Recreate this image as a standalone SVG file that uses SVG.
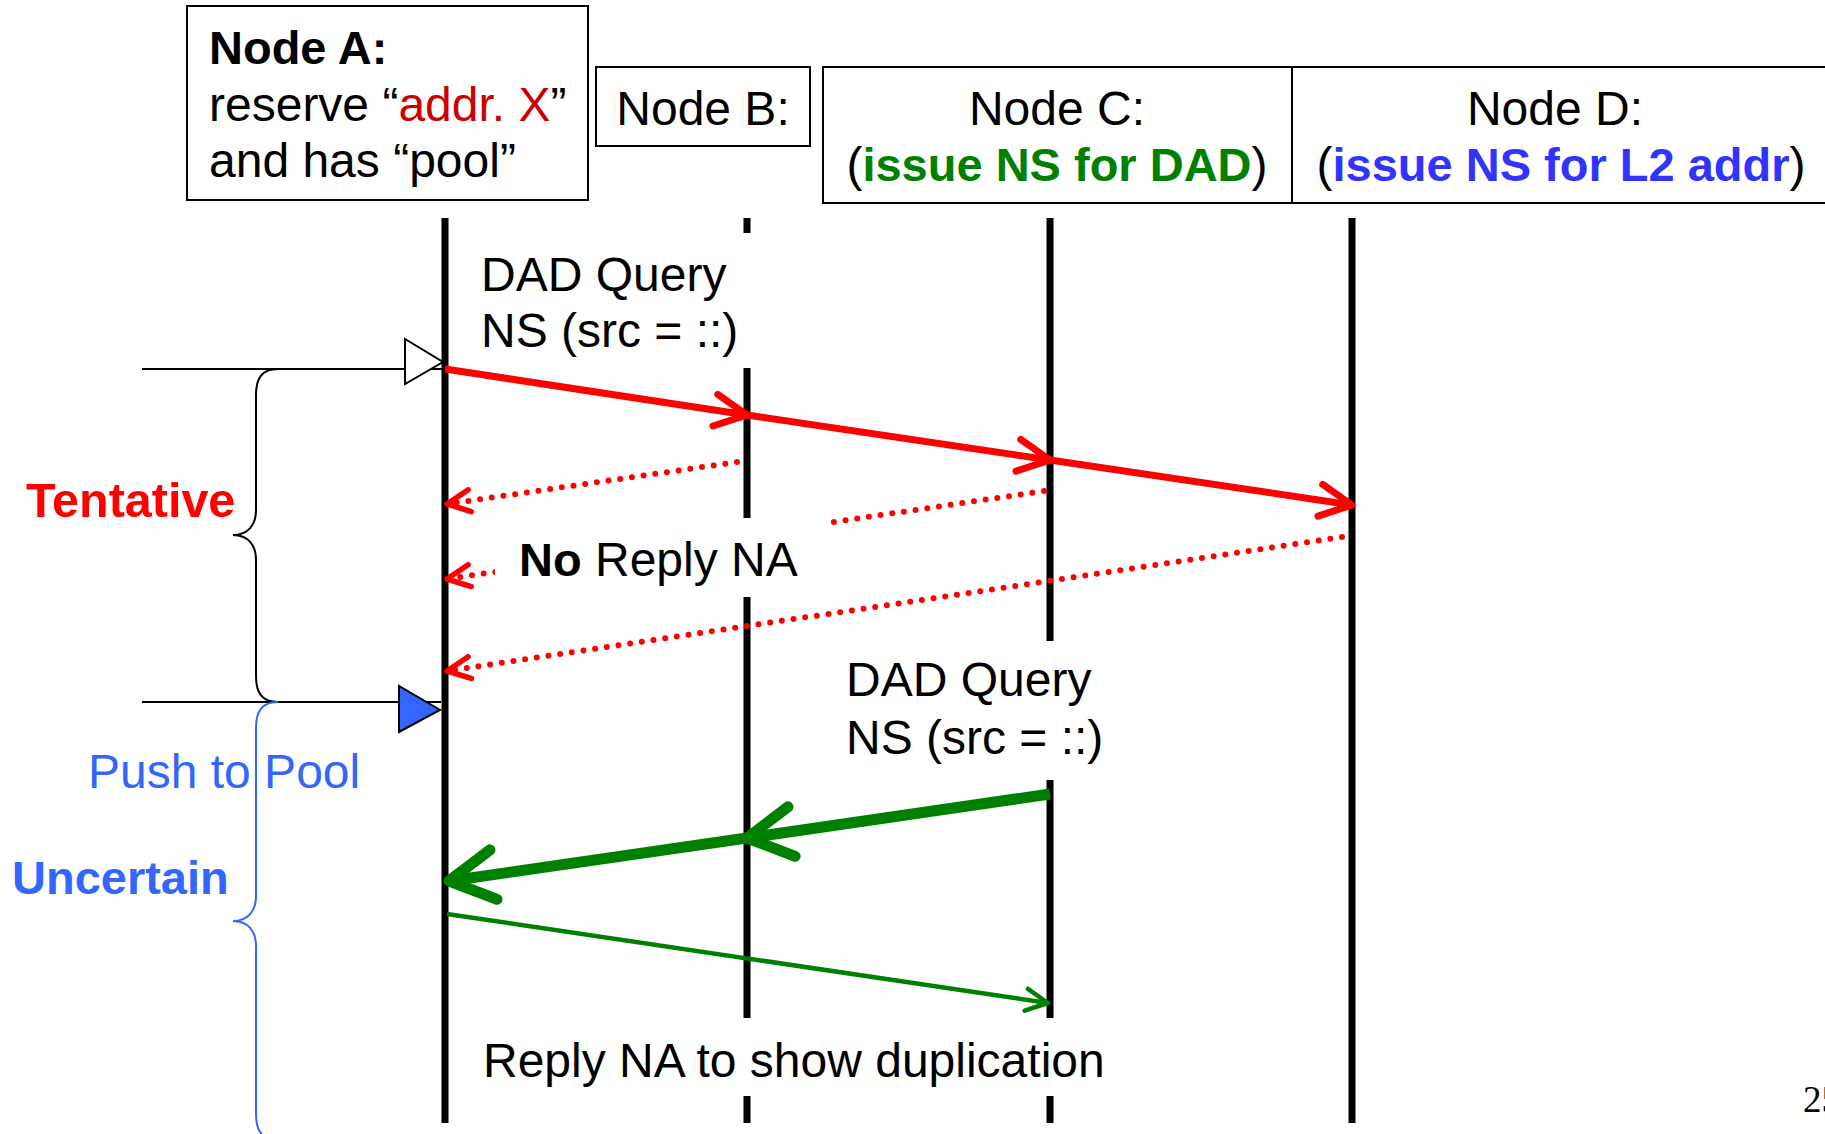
<svg xmlns="http://www.w3.org/2000/svg" width="1825" height="1134" viewBox="0 0 1825 1134">
  <defs>
    <style>
      text { font-family: "Liberation Sans", Arial, sans-serif; font-size: 48px; fill: #000; }
      .b { font-weight: bold; font-size: 47px; }
      .box { fill: #fff; stroke: #000; stroke-width: 2; }
      .life { stroke: #000; stroke-width: 7; fill: none; }
      .mask { fill: #fff; stroke: none; }
      .red { stroke: #f00; stroke-width: 7; fill: none; }
      .dot { stroke: #f00; stroke-width: 6; stroke-dasharray: 0 11.8; stroke-linecap: round; fill: none; }
      .gthick { stroke: #008000; stroke-width: 11; fill: none; }
      .gthin { stroke: #008000; stroke-width: 4.5; fill: none; }
      .brace { fill: none; stroke-width: 2; }
      .tick { stroke: #000; stroke-width: 2; fill: none; }
      marker { overflow: visible; }
    </style>
    <marker id="ahRed" markerUnits="userSpaceOnUse" orient="auto" markerWidth="1" markerHeight="1">
      <path d="M-32,-16 L0,0 L-32,16" fill="none" stroke="#f00" stroke-width="7" stroke-linecap="round" stroke-linejoin="round"/>
    </marker>
    <marker id="ahRedDot" markerUnits="userSpaceOnUse" orient="auto" markerWidth="1" markerHeight="1">
      <path d="M-23,-11 L0,0 L-23,11" fill="none" stroke="#f00" stroke-width="5.5" stroke-linecap="round" stroke-linejoin="round"/>
    </marker>
    <marker id="ahGreenBig" markerUnits="userSpaceOnUse" orient="auto" markerWidth="1" markerHeight="1">
      <path d="M-45,-25 L0,0 L-45,25" fill="none" stroke="#008000" stroke-width="11" stroke-linecap="round" stroke-linejoin="round"/>
    </marker>
    <marker id="ahGreenSmall" markerUnits="userSpaceOnUse" orient="auto" markerWidth="1" markerHeight="1">
      <path d="M-22,-11 L0,0 L-22,11" fill="none" stroke="#008000" stroke-width="4.5" stroke-linecap="round" stroke-linejoin="round"/>
    </marker>
  </defs>

  <rect width="1825" height="1134" fill="#fff"/>

  <!-- node headers -->
  <g id="nodeA">
    <rect class="box" x="187" y="6" width="401" height="194"/>
    <text class="b" x="209" y="64">Node A:</text>
    <text x="209" y="121">reserve “<tspan fill="#cc0000">addr. X</tspan>”</text>
    <text x="209" y="177">and has “pool”</text>
  </g>
  <g id="nodeB">
    <rect class="box" x="596" y="67" width="214" height="79"/>
    <text x="703" y="125" text-anchor="middle">Node B:</text>
  </g>
  <g id="nodeC">
    <rect class="box" x="823" y="67" width="469" height="136"/>
    <text x="1057" y="125" text-anchor="middle">Node C:</text>
    <text x="1057" y="181" text-anchor="middle">(<tspan class="b" fill="#008000">issue NS for DAD</tspan>)</text>
  </g>
  <g id="nodeD">
    <rect class="box" x="1292" y="67" width="560" height="136"/>
    <text x="1555" y="125" text-anchor="middle">Node D:</text>
    <text x="1561" y="181" text-anchor="middle">(<tspan class="b" fill="#3333ff">issue NS for L2 addr</tspan>)</text>
  </g>

  <!-- lifelines -->
  <g id="lifelines">
    <line class="life" x1="445" y1="218" x2="445" y2="1123"/>
    <line class="life" x1="747" y1="218" x2="747" y2="1123"/>
    <line class="life" x1="1050" y1="218" x2="1050" y2="1123"/>
    <line class="life" x1="1352" y1="218" x2="1352" y2="1123"/>
  </g>

  <!-- state markers and braces -->
  <g id="states">
    <line class="tick" x1="142" y1="369" x2="443" y2="369"/>
    <polygon points="405,339 405,384 443,362" fill="#fff" stroke="#000" stroke-width="2"/>
    <line class="tick" x1="142" y1="702" x2="441" y2="702"/>
    <polygon points="399,686 399,732 440,710" fill="#3366ff" stroke="#000" stroke-width="2"/>
    <path class="brace" stroke="#000" d="M278,369 C262,369 256,378 256,395 L256,510 C256,525 248,535 233,535 C248,535 256,545 256,560 L256,676 C256,693 262,702 278,702"/>
    <path class="brace" stroke="#3366ff" d="M278,702 C262,702 256,711 256,728 L256,896 C256,911 248,921 233,921 C248,921 256,931 256,946 L256,1114 C256,1131 262,1140 278,1140"/>
    <text class="b" x="26" y="517" style="fill:#ff0000; font-size:48.5px">Tentative</text>
    <text x="88" y="788" style="fill:#3366ff">Push to Pool</text>
    <text class="b" x="12" y="894" style="fill:#3366ff">Uncertain</text>
  </g>

  <!-- messages -->
  <g id="connectors">
    <line class="red" x1="445" y1="369" x2="747" y2="415" marker-end="url(#ahRed)"/>
    <line class="red" x1="747" y1="415" x2="1050" y2="460" marker-end="url(#ahRed)"/>
    <line class="red" x1="1050" y1="460" x2="1352" y2="505" marker-end="url(#ahRed)"/>
    <line class="dot" x1="737" y1="462" x2="447" y2="504" marker-end="url(#ahRedDot)"/>
    <line class="dot" x1="1044" y1="491" x2="447" y2="579" marker-end="url(#ahRedDot)"/>
    <line class="dot" x1="1342" y1="537" x2="447" y2="671" marker-end="url(#ahRedDot)"/>
    <line class="gthick" x1="1050" y1="794" x2="747" y2="838" marker-end="url(#ahGreenBig)"/>
    <line class="gthick" x1="747" y1="838" x2="449" y2="881" marker-end="url(#ahGreenBig)"/>
    <line class="gthin" x1="447" y1="914" x2="1048" y2="1003" marker-end="url(#ahGreenSmall)"/>
  </g>

  <!-- message labels -->
  <g id="label-dad-query-1">
    <rect class="mask" x="462" y="233" width="300" height="135"/>
    <text x="481" y="291">DAD Query</text>
    <text x="481" y="347">NS (src = ::)</text>
  </g>
  <g id="label-no-reply">
    <rect class="mask" x="495" y="518" width="335" height="79"/>
    <text x="519" y="576"><tspan class="b">No</tspan> Reply NA</text>
  </g>
  <g id="label-dad-query-2">
    <rect class="mask" x="838" y="641" width="272" height="139"/>
    <text x="846" y="696">DAD Query</text>
    <text x="846" y="754">NS (src = ::)</text>
  </g>
  <g id="label-reply-na">
    <rect class="mask" x="475" y="1018" width="635" height="78"/>
    <text x="483" y="1077">Reply NA to show duplication</text>
  </g>

  <text x="1803" y="1112" style="font-family: 'Liberation Serif', 'Times New Roman', serif; font-size: 37px;">25</text>
</svg>
